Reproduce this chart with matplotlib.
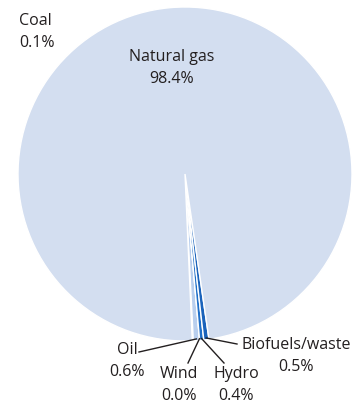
import numpy as np
import matplotlib.pyplot as plt

plt.rcParams['font.family'] = ['Open Sans', 'DejaVu Sans']

# electricity generation shares, %
sources = ['Coal', 'Oil', 'Wind', 'Hydro', 'Biofuels/waste', 'Natural gas']
shares = [0.1, 0.6, 0.0, 0.4, 0.5, 98.4]
colors = ['#d3def0', '#b9cfee', '#2b78cc', '#1f6fc8', '#1a63bb', '#d3def0']

W, H = 356, 405
fig = plt.figure(figsize=(W / 100, H / 100), dpi=100)
ax = fig.add_axes([0, 0, 1, 1])

cx, cy, r = 185, H - 174, 167
wedges, _ = ax.pie(shares, colors=colors, startangle=-87.5, counterclock=True,
                   center=(cx, cy), radius=r,
                   wedgeprops=dict(edgecolor='white', linewidth=1.0))
ax.set_xlim(0, W)
ax.set_ylim(0, H)
ax.set_aspect('equal')
ax.axis('off')


def edge_point(w, frac=1.0):
    a = np.deg2rad((w.theta1 + w.theta2) / 2)
    return cx + frac * r * np.cos(a), cy + frac * r * np.sin(a)


fs = 11.5
txt = '#231f20'
ls = 1.45
# inside label for the big slice
ax.text(172, H - 68, 'Natural gas\n{:.1f}%'.format(shares[5]), ha='center', va='center',
        fontsize=fs, color=txt, linespacing=ls)
ax.text(19, H - 32, 'Coal\n{:.1f}%'.format(shares[0]), ha='left', va='center',
        fontsize=fs, color=txt, linespacing=ls)

# labels with leader lines for the thin slices
lab = {
    'Oil': ((127, H - 361), (139, H - 352)),
    'Wind': ((179, H - 385), (188, H - 363)),
    'Hydro': ((236, H - 385), (224, H - 363)),
    'Biofuels/waste': ((296, H - 356), (237, H - 344)),
}
for i, name in enumerate(sources):
    if name not in lab:
        continue
    (tx, ty), (lx, ly) = lab[name]
    ax.text(tx, ty, '{}\n{:.1f}%'.format(name, shares[i]), ha='center', va='center',
            fontsize=fs, color=txt, linespacing=ls)
    px, py = edge_point(wedges[i], 0.99)
    ax.plot([lx, px], [ly, py], color='#231f20', lw=1.0)

fig.savefig('out.png', dpi=100)
